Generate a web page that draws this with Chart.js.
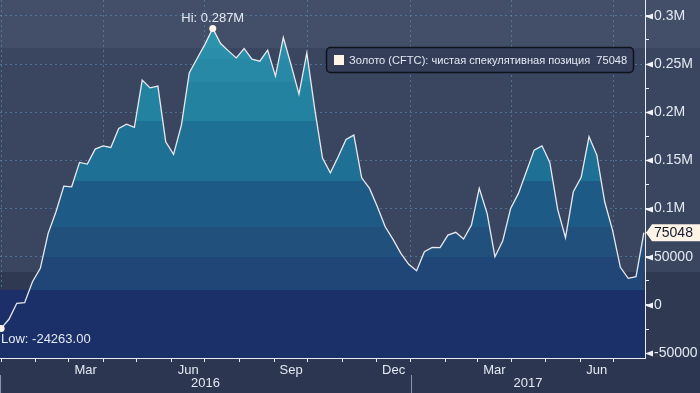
<!DOCTYPE html>
<html>
<head>
<meta charset="utf-8">
<script src="https://cdn.jsdelivr.net/npm/chart.js@4.4.0/dist/chart.umd.min.js"></script>
<style>
    html, body { margin: 0; padding: 0; background: #2c3650; }
    #wrap {
        width: 700px; height: 393px; position: relative;
        background: linear-gradient(to bottom,
            #434e69 0px, #434e69 48px,
            #3a4560 48px, #3a4560 272px,
            #2f3952 272px, #2f3952 358px,
            #2c3650 358px, #2c3650 393px);
    }
</style>
</head>
<body>
<div id="wrap"><canvas id="cftcChart" width="700" height="393"></canvas></div>
<script>
// weekly CFTC net speculative position, gold
const netPosition = [
    -24263, -14830, 1760, 2390, 24160, 38060, 74350, 96750, 123400, 122680,
    147980, 146220, 161770, 165190, 163530, 183240, 187700, 184270, 233330, 225340,
    227100, 169340, 156280, 186660, 240900, 255830, 270450, 287000, 271380, 263710,
    256450, 266200, 255100, 253030, 264440, 237470, 277600, 248880, 218810, 261640,
    203980, 152440, 137200, 153790, 171830, 176290, 132010, 121020, 101940, 81200,
    68130, 53610, 42210, 35570, 55270, 59830, 59500, 72590, 75390, 68440,
    82960, 121020, 95090, 50090, 66680, 100280, 115830, 138230, 160740, 165190,
    147980, 99240, 69790, 117490, 132420, 174530, 155550, 107120, 77780, 39090,
    27690, 29350, 75048
];
const firstDate = Date.UTC(2016, 0, 1);   // first report, then one per week
const seriesName = 'Золото (CFTC): чистая спекулятивная позиция';

const xLabelNames = ['Mar', 'Jun', 'Sep', 'Dec', 'Mar', 'Jun'];
const xLabelMonths = [[2016, 2], [2016, 5], [2016, 8], [2016, 11], [2017, 2], [2017, 5]];
const yearLabels = ['2016', '2017'];
const yTickValues = [-50000, 0, 50000, 100000, 150000, 200000, 250000, 300000];
const yTickLabels = ['-50000', '0', '50000', '0.1M', '0.15M', '0.2M', '0.25M', '0.3M'];

const DAY = 86400000;
const dayOf = (y, m, d) => (Date.UTC(y, m, d || 1) - firstDate) / DAY;
const weekDays = netPosition.map((v, i) => i * 7);

// month boundaries for tick marks, quarter starts for grid lines
const monthStarts = [];
for (let y = 2016; y <= 2017; y++) {
    for (let m = 0; m < 12; m++) {
        const d = dayOf(y, m);
        if (d <= 575) monthStarts.push(d);
    }
}
const quarterStarts = monthStarts.filter(d => [0, 3, 6, 9].includes(new Date(firstDate + d * DAY).getUTCMonth()));
const labelPos = {};
xLabelMonths.forEach((ym, i) => {
    const mid = (dayOf(ym[0], ym[1]) + dayOf(ym[0], ym[1] + 1)) / 2;
    labelPos[mid] = xLabelNames[i];
});
const xTicks = monthStarts.concat(Object.keys(labelPos).map(Number)).sort((a, b) => a - b);

const yMinor = [];
for (let v = -50000; v <= 300000; v += 25000) yMinor.push(v);

// fill bands, top to bottom: [lower value bound, colour]
const fillBands = [
    [266700, '#2c93ad'], [255300, '#2a8eaa'], [231400, '#2789a6'], [190900, '#23829f'],
    [128700, '#1f7095'], [80900, '#1e5a86'], [49800, '#22507d'], [15600, '#1f4677'],
    [-1e9, '#1b2f68']
];

const gridDash = 'rgba(95, 150, 190, 0.55)';
const textColor = '#e4e9f3';
const fontFam = "'Liberation Sans', Arial, sans-serif";

function bandGradient(chart) {
    const area = chart.chartArea;
    if (!area) return '#2082a0';
    const ys = chart.scales.y;
    const g = chart.ctx.createLinearGradient(0, area.top, 0, area.bottom);
    const h = area.bottom - area.top;
    let prev = 0;
    fillBands.forEach(b => {
        let f = b[0] < -1e8 ? 1 : (ys.getPixelForValue(b[0]) - area.top) / h;
        f = Math.min(1, Math.max(0, f));
        g.addColorStop(prev, b[1]);
        g.addColorStop(f, b[1]);
        prev = f;
    });
    return g;
}

const extras = {
    id: 'extras',
    beforeDatasetsDraw(chart) {
        const { ctx, chartArea: a, scales: { y } } = chart;
        const top = y.getPixelForValue(15600);
        ctx.save();
        ctx.fillStyle = '#1c2f68';
        ctx.fillRect(a.left, top, a.right - a.left, a.bottom - top);
        ctx.restore();
    },
    afterDraw(chart) {
        const { ctx, chartArea: a, scales: { x, y } } = chart;
        ctx.save();
        // arrow marks on the major y ticks
        ctx.fillStyle = '#eef1f7';
        yTickValues.forEach(v => {
            const py = Math.round(y.getPixelForValue(v)) + 0.5;
            ctx.beginPath();
            ctx.moveTo(a.right, py);
            ctx.lineTo(a.right + 8, py - 3);
            ctx.lineTo(a.right + 8, py + 3);
            ctx.closePath();
            ctx.fill();
        });

        // hi / low markers
        const maxV = Math.max(...netPosition), minV = Math.min(...netPosition);
        const iMax = netPosition.indexOf(maxV);
        ctx.font = '13px ' + fontFam;
        ctx.fillStyle = textColor;
        ctx.textBaseline = 'middle';
        ctx.textAlign = 'center';
        ctx.fillText('Hi: ' + (maxV / 1e6).toFixed(3) + 'M', x.getPixelForValue(weekDays[iMax]), y.getPixelForValue(maxV) - 10);
        ctx.textAlign = 'left';
        ctx.fillText('Low: ' + minV.toFixed(2), a.left + 1, y.getPixelForValue(minV) + 11);

        // last value flag
        const last = netPosition[netPosition.length - 1];
        const ly = y.getPixelForValue(last);
        ctx.fillStyle = '#fdf3e6';
        ctx.beginPath();
        ctx.moveTo(a.right + 1, ly);
        ctx.lineTo(a.right + 7, ly - 8.5);
        ctx.lineTo(700, ly - 8.5);
        ctx.lineTo(700, ly + 8.5);
        ctx.lineTo(a.right + 7, ly + 8.5);
        ctx.closePath();
        ctx.fill();
        ctx.fillStyle = '#131a2c';
        ctx.font = '14px ' + fontFam;
        ctx.fillText(String(last), a.right + 9, ly + 0.5);

        // year row
        const split = x.getPixelForValue(dayOf(2017, 0));
        ctx.strokeStyle = '#8c93aa';
        ctx.lineWidth = 1;
        [a.left + 0.5, Math.round(split) + 0.5].forEach(px => {
            ctx.beginPath();
            ctx.moveTo(px, a.bottom + 17);
            ctx.lineTo(px, 393);
            ctx.stroke();
        });
        ctx.font = '13px ' + fontFam;
        ctx.fillStyle = textColor;
        ctx.textAlign = 'center';
        ctx.fillText(yearLabels[0], (a.left + split) / 2, a.bottom + 25);
        ctx.fillText(yearLabels[1], (split + a.right) / 2, a.bottom + 25);

        // legend box
        const bx = 326.5, by = 47.5, bw = 307, bh = 25;
        ctx.beginPath();
        ctx.roundRect(bx, by, bw, bh, 4);
        ctx.fillStyle = '#343e58';
        ctx.fill();
        ctx.lineWidth = 1.5;
        ctx.strokeStyle = '#0e121d';
        ctx.stroke();
        ctx.fillStyle = '#fdf3e6';
        ctx.fillRect(334, 55, 10, 10);
        ctx.fillStyle = textColor;
        ctx.textAlign = 'left';
        ctx.font = '11.1px ' + fontFam;
        ctx.fillText(seriesName + '  ' + last, 349, by + bh / 2 + 0.5);
        ctx.restore();
    }
};

const ctx = document.getElementById('cftcChart');
new Chart(ctx, {
    type: 'line',
    data: {
        datasets: [{
            data: netPosition.map((v, i) => ({ x: weekDays[i], y: v })),
            borderColor: '#e9eaf0',
            borderWidth: 1.3,
            tension: 0,
            fill: 'start',
            backgroundColor: c => bandGradient(c.chart),
            pointRadius: c => {
                const v = netPosition[c.dataIndex];
                return (v === Math.max(...netPosition) || v === Math.min(...netPosition)) ? 3.5 : 0;
            },
            pointBackgroundColor: '#fdf3e6',
            pointBorderWidth: 0
        }]
    },
    options: {
        responsive: false,
        animation: false,
        layout: { padding: 0, autoPadding: false },
        plugins: { legend: { display: false }, tooltip: { enabled: false } },
        scales: {
            x: {
                type: 'linear',
                min: -1,
                max: 575,
                z: 1,
                afterBuildTicks: s => { s.ticks = xTicks.map(v => ({ value: v })); },
                afterFit: s => { s.height = 35; s.paddingLeft = 0; s.paddingRight = 0; },
                ticks: {
                    autoSkip: false,
                    maxRotation: 0,
                    padding: 1,
                    color: textColor,
                    font: { family: fontFam, size: 13 },
                    callback: v => labelPos[v] || ''
                },
                grid: {
                    color: c => (c.tick && quarterStarts.includes(c.tick.value)) ? gridDash : 'transparent',
                    tickColor: c => (c.tick && monthStarts.includes(c.tick.value)) ? '#e8ecf4' : 'transparent',
                    tickLength: 4
                },
                border: { color: '#e8ecf4', width: 1, dash: [2, 3] }
            },
            y: {
                position: 'right',
                min: -55000,
                max: 316500,
                z: 1,
                afterBuildTicks: s => { s.ticks = yMinor.map(v => ({ value: v })); },
                afterFit: s => { s.width = 55; s.paddingTop = 0; s.paddingBottom = 0; },
                ticks: {
                    autoSkip: false,
                    padding: 5,
                    color: textColor,
                    font: { family: fontFam, size: 14 },
                    callback: v => {
                        const k = yTickValues.indexOf(v);
                        return k >= 0 ? yTickLabels[k] : '';
                    }
                },
                grid: {
                    color: c => (c.tick && yTickValues.includes(c.tick.value)) ? gridDash : 'transparent',
                    tickColor: '#e8ecf4',
                    tickLength: 4
                },
                border: { color: '#e8ecf4', width: 1, dash: [2, 3] }
            }
        }
    },
    plugins: [extras]
});
</script>
</body>
</html>
